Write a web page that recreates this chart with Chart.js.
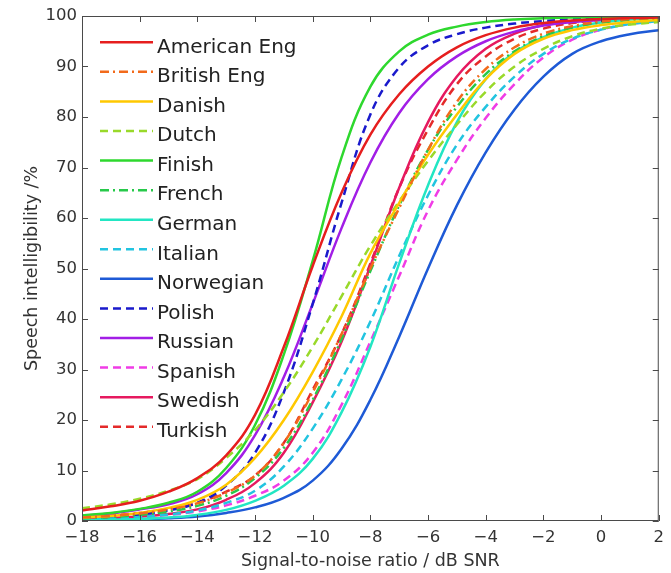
<!DOCTYPE html>
<html>
<head>
<meta charset="utf-8">
<script src="https://cdn.jsdelivr.net/npm/chart.js@4.4.1/dist/chart.umd.min.js"></script>
<style>
  html, body { margin: 0; padding: 0; background: #ffffff; }
  #wrap { width: 671px; height: 573px; position: relative; }
</style>
</head>
<body>
<div id="wrap"><canvas id="c" width="671" height="573"></canvas></div>
<script>
// ---- data ----
const snr = [-18, -17, -16, -15, -14, -13, -12, -11, -10, -9, -8, -7, -6, -5, -4, -3, -2, -1, 0, 1, 2];
const languages = ["American Eng", "British Eng", "Danish", "Dutch", "Finish", "French", "German",
                   "Italian", "Norwegian", "Polish", "Russian", "Spanish", "Swedish", "Turkish"];
const americanEng = [2.1, 2.9, 4.0, 5.8, 8.5, 13, 21, 34.5, 50.5, 65, 76.5, 84.5, 90, 93.8, 96.2, 97.7, 98.6, 99.1, 99.4, 99.6, 99.7];
const britishEng  = [0.7, 1.0, 1.5, 2.3, 3.5, 5.6, 9, 15.5, 25.5, 37, 50, 62, 73.5, 83, 89.5, 93.8, 96.5, 98, 98.9, 99.4, 99.6];
const danish      = [0.7, 1.0, 1.6, 2.6, 4.2, 7.2, 12.5, 20, 29.5, 40.5, 53, 63, 72.5, 80.5, 87.5, 92.5, 95.5, 97.2, 98.2, 98.8, 99.2];
const dutch       = [2.5, 3.3, 4.4, 6.0, 8.3, 12.5, 18, 25.5, 34.5, 44.5, 54.5, 63.3, 71.3, 78.5, 85, 90, 93.5, 96, 97.5, 98.3, 98.8];
const finnish     = [1.1, 1.6, 2.4, 3.6, 5.8, 10.5, 19, 33, 51.5, 72, 86, 93, 96.3, 97.9, 98.8, 99.3, 99.55, 99.7, 99.8, 99.85, 99.9];
const french      = [0.5, 0.8, 1.2, 1.9, 3.0, 5.0, 8.5, 14.5, 24, 36, 49.5, 62.5, 73.5, 82, 88.5, 93, 96, 97.7, 98.7, 99.2, 99.5];
const german      = [0.15, 0.25, 0.4, 0.7, 1.2, 2.2, 4.0, 7.0, 12.3, 21.5, 34.5, 51, 66.5, 79, 87.5, 92.8, 95.8, 97.7, 98.7, 99.3, 99.6];
const italian     = [0.35, 0.5, 0.8, 1.3, 2.1, 3.6, 6.0, 10.8, 18.3, 28, 39.5, 52.5, 64.5, 74.5, 82, 88, 92.5, 95.5, 97.3, 98.4, 99];
const norwegian   = [0.1, 0.2, 0.35, 0.55, 0.9, 1.6, 2.7, 4.6, 8.0, 14.3, 24, 36.5, 50, 62.5, 73, 81.5, 88, 92.5, 95, 96.4, 97.2];
const polish      = [0.5, 0.8, 1.3, 2.1, 3.6, 7, 13.5, 25.5, 43, 63, 80.5, 89.8, 94.2, 96.4, 97.7, 98.5, 99.0, 99.35, 99.55, 99.7, 99.8];
const russian     = [1.0, 1.5, 2.3, 3.3, 5.3, 9.5, 17, 28.5, 43, 58, 71, 80.8, 87.5, 92, 95, 96.9, 98.1, 98.8, 99.2, 99.5, 99.7];
const spanish     = [0.3, 0.45, 0.75, 1.2, 1.9, 3.1, 5.0, 8.0, 13.5, 23, 35.5, 48.5, 61.5, 71.5, 79.8, 86.5, 91.8, 95.3, 97.3, 98.4, 99];
const swedish     = [0.4, 0.6, 0.9, 1.4, 2.3, 4.2, 7.5, 13.5, 23.5, 35.5, 50.5, 66, 79, 88, 93.5, 96.5, 98.2, 99, 99.5, 99.7, 99.8];
const turkish     = [0.8, 1.1, 1.6, 2.4, 3.6, 5.8, 9, 15.5, 26, 37, 51, 66, 77.5, 86.5, 92, 95.5, 97.5, 98.6, 99.2, 99.5, 99.7];
const xTicks = [-18, -16, -14, -12, -10, -8, -6, -4, -2, 0, 2];
const yTicks = [0, 10, 20, 30, 40, 50, 60, 70, 80, 90, 100];

const seriesValues = [americanEng, britishEng, danish, dutch, finnish, french, german,
                      italian, norwegian, polish, russian, spanish, swedish, turkish];

// ---- styles ----
const SOLID = [], DASH = [8, 5], DASHDOT = [9, 4, 2, 4];
const styles = [
  { c: '#e61e1e', d: SOLID },   // American Eng
  { c: '#f26a1b', d: DASHDOT }, // British Eng
  { c: '#ffc800', d: SOLID },   // Danish
  { c: '#99d92a', d: DASH },    // Dutch
  { c: '#2ed82e', d: SOLID },   // Finish
  { c: '#27c94a', d: DASHDOT }, // French
  { c: '#22e6c3', d: SOLID },   // German
  { c: '#22c4e0', d: DASH },    // Italian
  { c: '#1e5ad6', d: SOLID },   // Norwegian
  { c: '#1a1acc', d: DASH },    // Polish
  { c: '#a21ee6', d: SOLID },   // Russian
  { c: '#f03ce6', d: DASH },    // Spanish
  { c: '#e6195f', d: SOLID },   // Swedish
  { c: '#e42a2a', d: DASH }     // Turkish
];

const datasets = languages.map((name, i) => ({
  label: name,
  data: snr.map((x, j) => ({ x: x, y: seriesValues[i][j] })),
  borderColor: styles[i].c,
  backgroundColor: styles[i].c,
  borderDash: styles[i].d,
  borderWidth: 2.5,
  pointRadius: 0,
  fill: false,
  tension: 0.4
}));

const FONT = 'DejaVu Sans';
const fmt = v => (v < 0 ? '\u2212' + Math.abs(v) : String(v));

// frame with inward ticks on all four sides
const framePlugin = {
  id: 'frame',
  afterDatasetsDraw(chart) {
    const { ctx, chartArea: a, scales } = chart;
    ctx.save();
    ctx.strokeStyle = '#4a4a4a';
    ctx.lineWidth = 1;
    ctx.setLineDash([]);
    ctx.strokeRect(a.left + 0.5, a.top + 0.5, a.right - a.left - 1, a.bottom - a.top - 1);
    const L = 6;
    ctx.beginPath();
    xTicks.forEach(v => {
      const px = Math.round(scales.x.getPixelForValue(v)) + 0.5;
      ctx.moveTo(px, a.bottom); ctx.lineTo(px, a.bottom - L);
      ctx.moveTo(px, a.top); ctx.lineTo(px, a.top + L);
    });
    yTicks.forEach(v => {
      const py = Math.round(scales.y.getPixelForValue(v)) + 0.5;
      ctx.moveTo(a.left, py); ctx.lineTo(a.left + L, py);
      ctx.moveTo(a.right, py); ctx.lineTo(a.right - L, py);
    });
    ctx.stroke();
    ctx.restore();
  }
};

// legend inside the plot, top-left, no box
const legendPlugin = {
  id: 'innerLegend',
  afterDraw(chart) {
    const { ctx } = chart;
    ctx.save();
    chart.data.datasets.forEach((ds, i) => {
      const y = 42.3 + i * 29.57;
      ctx.strokeStyle = ds.borderColor;
      ctx.lineWidth = 2.5;
      ctx.setLineDash(ds.borderDash);
      ctx.beginPath();
      ctx.moveTo(100, y); ctx.lineTo(153, y);
      ctx.stroke();
      ctx.setLineDash([]);
      ctx.fillStyle = '#222222';
      ctx.font = '20px "' + FONT + '"';
      ctx.textBaseline = 'alphabetic';
      ctx.textAlign = 'left';
      ctx.fillText(ds.label, 157, y + 10.3);
    });
    ctx.restore();
  }
};

new Chart(document.getElementById('c'), {
  type: 'line',
  data: { datasets: datasets },
  options: {
    responsive: false,
    animation: false,
    devicePixelRatio: 1,
    layout: { padding: { top: 16, right: 3, left: 0, bottom: 0 } },
    plugins: { legend: { display: false }, tooltip: { enabled: false } },
    scales: {
      x: {
        type: 'linear',
        min: -18, max: 2,
        afterBuildTicks: s => { s.ticks = xTicks.map(v => ({ value: v })); },
        afterFit: s => { s.height = 52; },
        grid: { display: false, drawTicks: false },
        border: { display: false },
        ticks: { padding: 7, color: '#333333', font: { family: FONT, size: 16.5 }, callback: v => fmt(v), maxRotation: 0, autoSkip: false },
        title: { display: true, text: 'Signal-to-noise ratio / dB SNR', color: '#333333',
                 font: { family: FONT, size: 17.5 }, padding: { top: 0, bottom: 1 } }
      },
      y: {
        type: 'linear',
        min: 0, max: 100,
        afterBuildTicks: s => { s.ticks = yTicks.map(v => ({ value: v })); },
        afterFit: s => { s.width = 82; },
        grid: { display: false, drawTicks: false },
        border: { display: false },
        ticks: { padding: 5, color: '#333333', font: { family: FONT, size: 16.5 }, callback: v => fmt(v) },
        title: { display: true, text: 'Speech intelligibility /%', color: '#333333',
                 font: { family: FONT, size: 17.5 }, padding: { top: 22, bottom: 0 } }
      }
    }
  },
  plugins: [framePlugin, legendPlugin]
});
</script>
</body>
</html>
